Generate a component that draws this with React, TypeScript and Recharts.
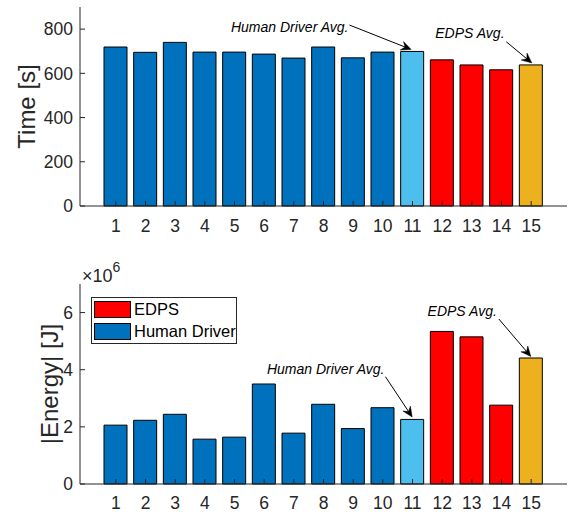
import React from 'react';
import { BarChart, Bar, XAxis, YAxis, Cell, LabelList, Legend, Label } from 'recharts';

// Trial numbers along the x axis
const trials = ['1', '2', '3', '4', '5', '6', '7', '8', '9', '10', '11', '12', '13', '14', '15'];

// Completion time per trial [s]
const timeSeconds = [719, 695, 740, 696, 696, 687, 669, 719, 670, 696, 699, 661, 638, 616, 638];

// Absolute energy per trial [J]
const energyJoules = [
  2.06e6, 2.23e6, 2.44e6, 1.57e6, 1.64e6, 3.5e6, 1.78e6, 2.79e6, 1.94e6, 2.67e6,
  2.26e6, 5.34e6, 5.15e6, 2.76e6, 4.41e6,
];

// Which group each trial belongs to
const trialGroups = [
  'human', 'human', 'human', 'human', 'human', 'human', 'human', 'human', 'human', 'human',
  'humanAvg', 'edps', 'edps', 'edps', 'edpsAvg',
];

const timeTicks = [0, 200, 400, 600, 800];
const energyTicks = [0, 2e6, 4e6, 6e6];

const legendItems = [
  { label: 'EDPS', group: 'edps' },
  { label: 'Human Driver', group: 'human' },
];

const annotationText: Record<string, string> = {
  humanAvg: 'Human Driver Avg.',
  edpsAvg: 'EDPS Avg.',
};

const COLORS: Record<string, string> = {
  human: '#0072BD',
  humanAvg: '#4DBEEE',
  edps: '#FF0000',
  edpsAvg: '#EDB120',
};

const AXIS = '#262626';
const FONT = '"Liberation Sans", Arial, Helvetica, sans-serif';
const TICK_FONT = 17.5;

const timeData = trials.map((t, i) => ({ trial: t, value: timeSeconds[i], group: trialGroups[i] }));
const energyData = trials.map((t, i) => ({ trial: t, value: energyJoules[i], group: trialGroups[i] }));

type Offset = { head: [number, number]; tail: [number, number]; text: [number, number] };

// Arrow + italic caption pointing at the top of an average bar
function makeAnnotation(offsets: Record<string, Offset>) {
  return (props: any) => {
    const { x, y, width, index } = props;
    const group = trialGroups[index];
    const o = offsets[group];
    if (!o) return null;
    const cx = Number(x) + Number(width) / 2;
    const top = Number(y);
    const hx = cx + o.head[0];
    const hy = top + o.head[1];
    const tx = cx + o.tail[0];
    const ty = top + o.tail[1];
    const len = Math.hypot(hx - tx, hy - ty);
    const dx = (hx - tx) / len;
    const dy = (hy - ty) / len;
    const nx = -dy;
    const ny = dx;
    const L = 10;
    const W = 4.5;
    const bx = hx - L * dx;
    const by = hy - L * dy;
    const mx = hx - 0.65 * L * dx;
    const my = hy - 0.65 * L * dy;
    const pts = [
      `${hx},${hy}`,
      `${bx + W * nx},${by + W * ny}`,
      `${mx},${my}`,
      `${bx - W * nx},${by - W * ny}`,
    ].join(' ');
    return (
      <g>
        <line x1={tx} y1={ty} x2={mx} y2={my} stroke="#000" strokeWidth={1} />
        <polygon points={pts} fill="#000" stroke="#000" strokeWidth={0.5} />
        <text
          x={cx + o.text[0]}
          y={top + o.text[1]}
          textAnchor="end"
          fontStyle="italic"
          fontSize={14}
          fontFamily={FONT}
          fill="#000"
        >
          {annotationText[group]}
        </text>
      </g>
    );
  };
}

const topAnnotations = makeAnnotation({
  humanAvg: { head: [-1, -2], tail: [-62.7, -26.4], text: [-63.7, -19.7] },
  edpsAvg: { head: [1, -2], tail: [-24.6, -23.2], text: [-26.3, -26.6] },
});

const bottomAnnotations = makeAnnotation({
  humanAvg: { head: [0, -2.5], tail: [-26.7, -42.7], text: [-27.7, -45.4] },
  edpsAvg: { head: [0, -1.5], tail: [-32, -39], text: [-34, -42.3] },
});

const tickStyle = { fill: AXIS, fontSize: TICK_FONT, fontFamily: FONT };

function YTitle({ viewBox, text, baselineX }: any) {
  const cy = viewBox.y + viewBox.height / 2;
  return (
    <text
      x={baselineX}
      y={cy}
      transform={`rotate(-90, ${baselineX}, ${cy})`}
      textAnchor="middle"
      fontSize={24}
      fontFamily={FONT}
      fill={AXIS}
    >
      {text}
    </text>
  );
}

function ExponentLabel({ viewBox }: any) {
  const x = viewBox.x + viewBox.width + 2;
  const y = viewBox.y - 2.5;
  return (
    <text x={x} y={y} fontSize={18} fontFamily={FONT} fill={AXIS}>
      {'\u00D710'}
      <tspan fontSize={14} dy={-9.5}>6</tspan>
    </text>
  );
}

function LegendBox() {
  return (
    <div
      style={{
        boxSizing: 'border-box',
        width: 146,
        height: 47,
        border: `1px solid ${AXIS}`,
        background: '#fff',
        padding: '3px 0 0 2px',
        fontFamily: FONT,
        fontSize: 16.5,
        color: '#000',
      }}
    >
      {legendItems.map((item, i) => (
        <div
          key={item.label}
          style={{ display: 'flex', alignItems: 'center', height: 17, marginBottom: i === 0 ? 5 : 0 }}
        >
          <div
            style={{
              boxSizing: 'border-box',
              width: 37,
              height: 17,
              background: COLORS[item.group],
              border: '1px solid #000',
              marginRight: 3,
            }}
          />
          <span style={{ lineHeight: '17px', whiteSpace: 'nowrap' }}>{item.label}</span>
        </div>
      ))}
    </div>
  );
}

function renderCells(data: { group: string }[]) {
  return data.map((d, i) => <Cell key={i} fill={COLORS[d.group]} />);
}

export default function App() {
  return (
    <div style={{ position: 'absolute', left: 0, top: 0, width: 571, height: 512, background: '#fff' }}>
      <div style={{ position: 'absolute', left: 0, top: 0 }}>
        <BarChart width={571} height={240} data={timeData} margin={{ top: 7, right: 4, bottom: 0, left: 0 }}>
          <XAxis
            dataKey="trial"
            height={34}
            padding={{ left: 21, right: 21 }}
            tickSize={-5}
            tickMargin={19}
            stroke={AXIS}
            tick={tickStyle}
            interval={0}
          />
          <XAxis
            xAxisId="top"
            orientation="top"
            dataKey="trial"
            height={0}
            padding={{ left: 21, right: 21 }}
            tickSize={-5}
            stroke={AXIS}
            tick={false}
            interval={0}
          />
          <YAxis
            width={80}
            domain={[0, 900]}
            ticks={timeTicks}
            tickSize={-5}
            tickMargin={12}
            stroke={AXIS}
            tick={tickStyle}
            interval={0}
          >
            <Label content={(p: any) => <YTitle viewBox={p.viewBox} text="Time [s]" baselineX={35} />} />
          </YAxis>
          <YAxis
            yAxisId="right"
            orientation="right"
            width={0}
            domain={[0, 900]}
            ticks={timeTicks}
            tickSize={-5}
            stroke={AXIS}
            tick={false}
          />
          <Bar dataKey="value" barSize={23} stroke="#000" strokeWidth={1} isAnimationActive={false}>
            {renderCells(timeData)}
            <LabelList dataKey="value" content={topAnnotations} />
          </Bar>
        </BarChart>
      </div>
      <div style={{ position: 'absolute', left: 0, top: 250 }}>
        <BarChart width={571} height={262} data={energyData} margin={{ top: 34, right: 4, bottom: 0, left: 0 }}>
          <XAxis
            dataKey="trial"
            height={28}
            padding={{ left: 21, right: 21 }}
            tickSize={-5}
            tickMargin={18}
            stroke={AXIS}
            tick={tickStyle}
            interval={0}
          />
          <XAxis
            xAxisId="top"
            orientation="top"
            dataKey="trial"
            height={0}
            padding={{ left: 21, right: 21 }}
            tickSize={-5}
            stroke={AXIS}
            tick={false}
            interval={0}
          />
          <YAxis
            width={80}
            domain={[0, 7e6]}
            ticks={energyTicks}
            tickFormatter={(v: number) => String(v / 1e6)}
            tickSize={-5}
            tickMargin={12}
            stroke={AXIS}
            tick={tickStyle}
            interval={0}
          >
            <Label content={(p: any) => <YTitle viewBox={p.viewBox} text="|Energy| [J]" baselineX={57.5} />} />
            <Label content={(p: any) => <ExponentLabel viewBox={p.viewBox} />} />
          </YAxis>
          <YAxis
            yAxisId="right"
            orientation="right"
            width={0}
            domain={[0, 7e6]}
            ticks={energyTicks}
            tickSize={-5}
            stroke={AXIS}
            tick={false}
          />
          <Legend
            layout="vertical"
            align="center"
            verticalAlign="middle"
            content={() => <LegendBox />}
            wrapperStyle={{ left: 91, top: 47, width: 146, height: 47, right: 'auto', bottom: 'auto' }}
          />
          <Bar dataKey="value" barSize={23} stroke="#000" strokeWidth={1} isAnimationActive={false}>
            {renderCells(energyData)}
            <LabelList dataKey="value" content={bottomAnnotations} />
          </Bar>
        </BarChart>
      </div>
    </div>
  );
}
